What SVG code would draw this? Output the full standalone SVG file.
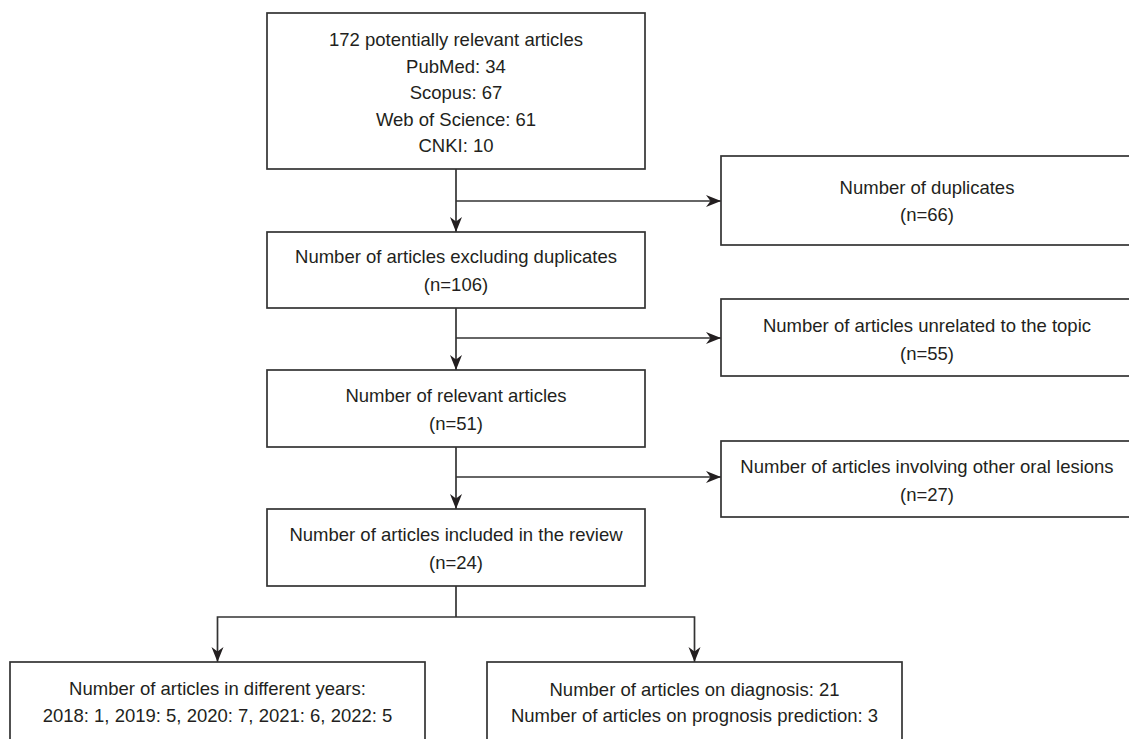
<svg xmlns="http://www.w3.org/2000/svg" width="1129" height="739" viewBox="0 0 1129 739">
  <defs>
    <marker id="arrow" markerUnits="userSpaceOnUse" markerWidth="16" markerHeight="14" refX="15" refY="7" orient="auto">
      <path d="M0,1 L15,7 L0,13 L4.5,7 Z" fill="#231f20"/>
    </marker>
    <style>
      .box { fill: #ffffff; stroke: #333333; stroke-width: 1.7; }
      .lbl { font-family: "Liberation Sans", Arial, Helvetica, sans-serif; font-size: 18.5px; fill: #231f20; text-anchor: middle; }
      .conn { fill: none; stroke: #333333; stroke-width: 1.7; }
      .arr { marker-end: url(#arrow); }
    </style>
  </defs>
  <rect x="0" y="0" width="1129" height="739" fill="#ffffff"/>

  <g id="connectors">
    <line class="conn arr" x1="456" y1="169" x2="456" y2="232"/>
    <line class="conn arr" x1="456" y1="201" x2="721" y2="201"/>
    <line class="conn arr" x1="456" y1="308" x2="456" y2="370"/>
    <line class="conn arr" x1="456" y1="338" x2="721" y2="338"/>
    <line class="conn arr" x1="456" y1="447" x2="456" y2="509"/>
    <line class="conn arr" x1="456" y1="477" x2="721" y2="477"/>
    <line class="conn" x1="456" y1="586" x2="456" y2="617"/>
    <polyline class="conn arr" points="456,617 217.5,617 217.5,662"/>
    <polyline class="conn arr" points="456,617 694.5,617 694.5,662"/>
  </g>

  <g id="node-sources">
    <rect class="box" x="267" y="13" width="378" height="156"/>
    <text class="lbl" x="456" y="46">172 potentially relevant articles</text>
    <text class="lbl" x="456" y="72.5">PubMed: 34</text>
    <text class="lbl" x="456" y="99">Scopus: 67</text>
    <text class="lbl" x="456" y="125.5">Web of Science: 61</text>
    <text class="lbl" x="456" y="152">CNKI: 10</text>
  </g>

  <g id="node-duplicates">
    <rect class="box" x="721" y="156" width="420" height="89"/>
    <text class="lbl" x="927" y="194">Number of duplicates</text>
    <text class="lbl" x="927" y="221">(n=66)</text>
  </g>

  <g id="node-excluding">
    <rect class="box" x="267" y="232" width="378" height="76"/>
    <text class="lbl" x="456" y="263">Number of articles excluding duplicates</text>
    <text class="lbl" x="456" y="290.5">(n=106)</text>
  </g>

  <g id="node-unrelated">
    <rect class="box" x="721" y="299" width="420" height="77"/>
    <text class="lbl" x="927" y="332">Number of articles unrelated to the topic</text>
    <text class="lbl" x="927" y="359.5">(n=55)</text>
  </g>

  <g id="node-relevant">
    <rect class="box" x="267" y="370" width="378" height="77"/>
    <text class="lbl" x="456" y="402">Number of relevant articles</text>
    <text class="lbl" x="456" y="430">(n=51)</text>
  </g>

  <g id="node-other-lesions">
    <rect class="box" x="721" y="441" width="420" height="76"/>
    <text class="lbl" x="927" y="473">Number of articles involving other oral lesions</text>
    <text class="lbl" x="927" y="500.5">(n=27)</text>
  </g>

  <g id="node-included">
    <rect class="box" x="267" y="509" width="378" height="77"/>
    <text class="lbl" x="456" y="541">Number of articles included in the review</text>
    <text class="lbl" x="456" y="569">(n=24)</text>
  </g>

  <g id="node-years">
    <rect class="box" x="10" y="662" width="415" height="100"/>
    <text class="lbl" x="217.5" y="695">Number of articles in different years:</text>
    <text class="lbl" x="217.5" y="721.5">2018: 1, 2019: 5, 2020: 7, 2021: 6, 2022: 5</text>
  </g>

  <g id="node-diagnosis">
    <rect class="box" x="487" y="662" width="415" height="100"/>
    <text class="lbl" x="694.5" y="695.5">Number of articles on diagnosis: 21</text>
    <text class="lbl" x="694.5" y="722">Number of articles on prognosis prediction: 3</text>
  </g>
</svg>
